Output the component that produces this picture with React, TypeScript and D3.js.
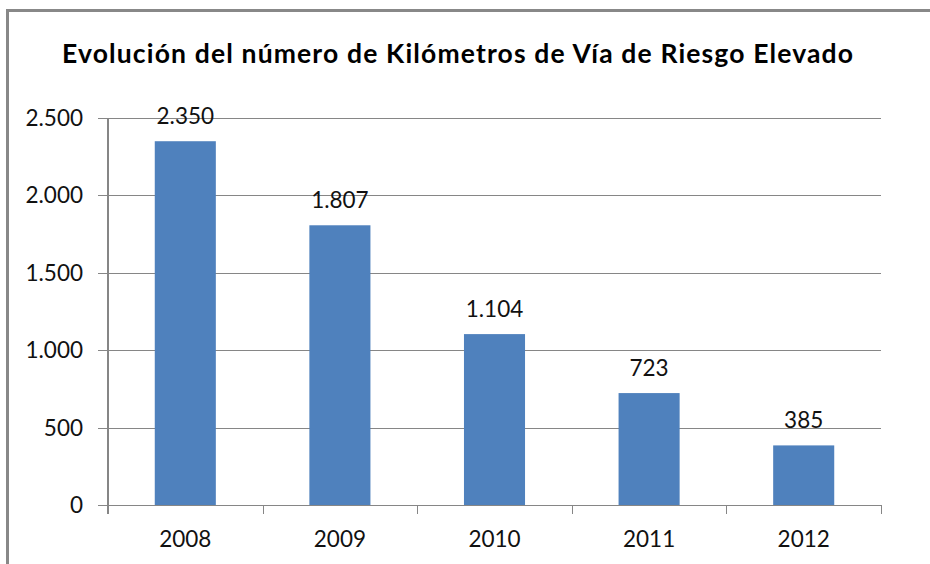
import React from "react";
import * as d3 from "d3";

const years = ["2008", "2009", "2010", "2011", "2012"];
const values = [2350, 1807, 1104, 723, 385];
const yTicks = [0, 500, 1000, 1500, 2000, 2500];
const title = "Evolución del número de Kilómetros de Vía de Riesgo Elevado";

const fmt = (v: number) => d3.format(",")(v).replace(/,/g, ".");

const App = () => {
    const width = 930;
    const height = 564;
    const margin = { top: 118, right: 49, bottom: 59, left: 108 };
    const x0 = margin.left;
    const x1 = width - margin.right;
    const y0 = height - margin.bottom;

    const x = d3.scaleBand<string>()
        .domain(years)
        .range([x0, x1])
        .paddingInner(0.605)
        .paddingOuter(0.3025);
    const y = d3.scaleLinear()
        .domain([0, 2500])
        .range([y0, margin.top]);
    const edges = d3.range(years.length + 1).map(i => x0 + i * x.step());

    const font = "Lato, 'Open Sans', sans-serif";
    const grid = "#868686";

    return (
        <svg width={width} height={height} style={{ position: "absolute", left: 0, top: 0, background: "#fff" }}>
            {/* chart frame */}
            <line x1={7.5} x2={7.5} y1={10} y2={height} stroke="#888" strokeWidth={3} />
            <line x1={6} x2={width} y1={10.5} y2={10.5} stroke="#888" strokeWidth={3} />

            <text x={62} y={63} textLength={791} lengthAdjust="spacing" fontFamily={font} fontWeight="bold" fontSize={26.5} fill="#000">
                {title}
            </text>

            {yTicks.map(t => (
                <g key={t}>
                    <line x1={x0 - 10} x2={x1} y1={Math.round(y(t)) + 0.5} y2={Math.round(y(t)) + 0.5} stroke={grid} strokeWidth={1} />
                    <text x={83} y={y(t) + 8} textAnchor="end" fontFamily={font} fontSize={22.5} fill="#111">
                        {fmt(t)}
                    </text>
                </g>
            ))}

            {years.map((yr, i) => (
                <rect key={yr} x={x(yr)} y={y(values[i])} width={x.bandwidth()} height={y0 - y(values[i])} fill="#4f81bd" />
            ))}

            {/* axes */}
            <line x1={x0} x2={x0} y1={margin.top} y2={y0 + 9} stroke={grid} strokeWidth={2} />
            <line x1={x0 - 10} x2={x1} y1={Math.round(y0) + 0.5} y2={Math.round(y0) + 0.5} stroke={grid} strokeWidth={1} />
            {edges.slice(1).map((e, i) => (
                <line key={i} x1={Math.round(e) + 0.5} x2={Math.round(e) + 0.5} y1={y0} y2={y0 + 9} stroke={grid} strokeWidth={1} />
            ))}

            {years.map(yr => (
                <text key={yr} x={(x(yr) ?? 0) + x.bandwidth() / 2} y={547} textAnchor="middle" fontFamily={font} fontSize={22.5} fill="#111">
                    {yr}
                </text>
            ))}

            {years.map((yr, i) => (
                <text key={yr} x={(x(yr) ?? 0) + x.bandwidth() / 2} y={y(values[i]) - 17} textAnchor="middle" fontFamily={font} fontSize={22.5} fill="#111">
                    {fmt(values[i])}
                </text>
            ))}
        </svg>
    );
};

export default App;
